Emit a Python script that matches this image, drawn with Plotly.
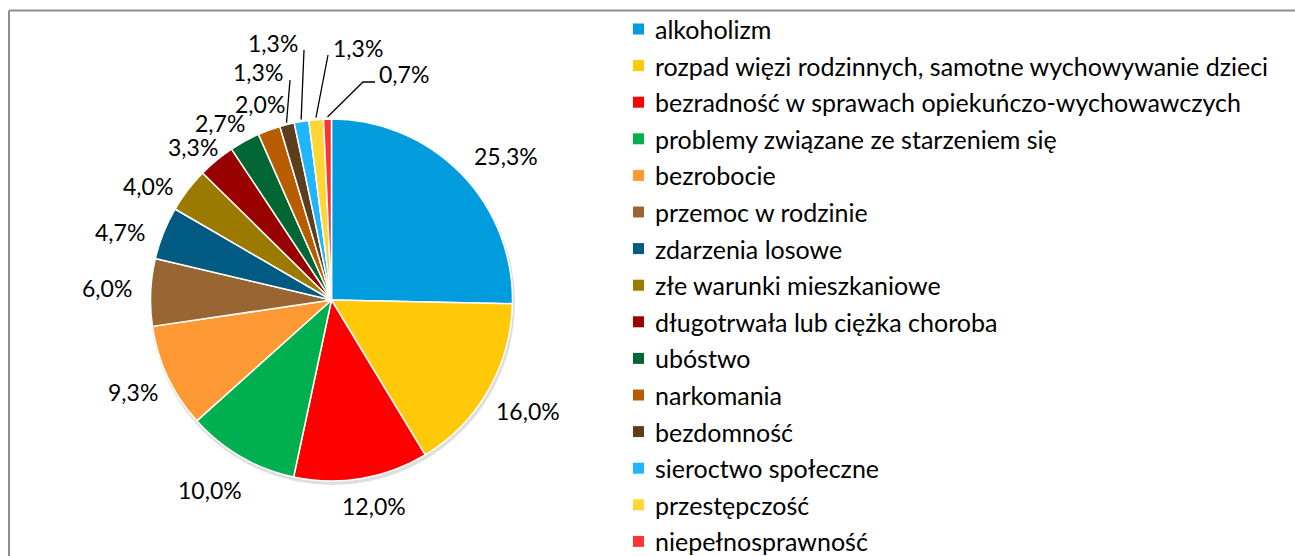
import math
import plotly.graph_objects as go

# ---------------- data ----------------
categories = [
    "alkoholizm",
    "rozpad więzi rodzinnych, samotne wychowywanie dzieci",
    "bezradność w sprawach opiekuńczo-wychowawczych",
    "problemy związane ze starzeniem się",
    "bezrobocie",
    "przemoc w rodzinie",
    "zdarzenia losowe",
    "złe warunki mieszkaniowe",
    "długotrwała lub ciężka choroba",
    "ubóstwo",
    "narkomania",
    "bezdomność",
    "sieroctwo społeczne",
    "przestępczość",
    "niepełnosprawność",
]
values = [25.3, 16.0, 12.0, 10.0, 9.3, 6.0, 4.7, 4.0, 3.3, 2.7, 2.0, 1.3, 1.3, 1.3, 0.7]
value_labels = [f"{v:.1f}%".replace(".", ",") for v in values]

# ---------------- styles ----------------
colors = [
    "#009CDE", "#FFC90A", "#FF0000", "#00B050", "#FF9933",
    "#996633", "#005A82", "#9C7A00", "#990000", "#006633",
    "#B85C00", "#5C3D1E", "#1FB6FF", "#FFD633", "#FF3333",
]
W, H = 1295, 556
FONT = "Lato"
LABEL_SIZE = 23
LEGEND_SIZE = 25

def fx(px):
    return px / W

def fy(py):
    return 1 - py / H

# pie geometry (pixels)
CX, CY, R = 331.5, 300.0, 181.0

fig = go.Figure()
# soft shadow under the pie
fig.add_trace(go.Pie(
    values=[1], labels=["shadow"], sort=False, textinfo="none", hoverinfo="skip",
    marker=dict(colors=["rgba(0,0,0,0.13)"], line=dict(width=0)),
    showlegend=False,
    domain=dict(x=[fx(CX - R - 1.5), fx(CX + R + 3.5)], y=[fy(CY + R + 4), fy(CY - R + 1)]),
))
fig.add_trace(go.Pie(
    labels=categories,
    values=values,
    sort=False,
    direction="clockwise",
    rotation=0,
    marker=dict(colors=colors, line=dict(color="white", width=1.5)),
    textinfo="none",
    hoverinfo="label+percent",
    showlegend=False,
    domain=dict(x=[fx(CX - R), fx(CX + R)], y=[fy(CY + R), fy(CY - R)]),
))

annotations = []
shapes = []

# frame (partly outside the visible window)
shapes.append(dict(type="line", xref="paper", yref="paper",
                   x0=fx(9), x1=fx(W + 5), y0=fy(10.5), y1=fy(10.5),
                   line=dict(color="#8C8C8C", width=2)))
shapes.append(dict(type="line", xref="paper", yref="paper",
                   x0=fx(9), x1=fx(9), y0=fy(10.5), y1=fy(H + 5),
                   line=dict(color="#8C8C8C", width=2)))

# data labels at computed mid angles
total = sum(values)
cum = 0.0
mids = []
for v in values:
    mids.append((cum + v / 2) / total * 360.0)
    cum += v

gap, hw, hh = 13, 32, 10
# small nudges (pixels) to mimic the spreadsheet label placement
nudge = {0: (15, 13), 1: (0, -2), 2: (8, 0), 3: (-12, 1), 4: (7, -5),
         5: (2, -2), 6: (0, 16), 7: (-4, 23), 8: (3, 18), 9: (-7, 14), 10: (2, 5)}
# labels with leader lines: (label center px, leader end near label px)
leader = {
    11: ((258, 72), (290, 80)),
    12: ((273, 43), (304, 50)),
    13: ((358, 48), (328, 55)),
    14: ((404, 74), (375, 82)),
}
for i, (lab, th) in enumerate(zip(value_labels, mids)):
    t = math.radians(th)
    if i in leader:
        (lx, ly), (ex, ey) = leader[i]
        sx = CX + (R + 2) * math.sin(t)
        sy = CY - (R + 2) * math.cos(t)
        if i == 14:
            path = f"M {fx(sx)},{fy(sy)} L {fx(363)},{fy(ey)} L {fx(ex)},{fy(ey)}"
        else:
            path = f"M {fx(sx)},{fy(sy)} L {fx(ex)},{fy(ey)}"
        shapes.append(dict(type="path", xref="paper", yref="paper", path=path,
                           line=dict(color="black", width=1.3)))
    else:
        d = R + gap + hw * abs(math.sin(t)) + hh * abs(math.cos(t))
        lx = CX + d * math.sin(t)
        ly = CY - d * math.cos(t)
        dx, dy = nudge.get(i, (0, 0))
        lx += dx
        ly += dy
    annotations.append(dict(
        x=fx(lx), y=fy(ly), xref="paper", yref="paper", text=lab,
        showarrow=False, xanchor="center", yanchor="middle",
        font=dict(family=FONT, size=LABEL_SIZE, color="black"),
    ))

# legend (manual, to match row spacing)
LEG_X_SQ, LEG_X_TXT, LEG_Y0, LEG_STEP, SQ = 638.5, 653, 29, 36.6, 11
for i, (cat, col) in enumerate(zip(categories, colors)):
    yc = LEG_Y0 + i * LEG_STEP
    shapes.append(dict(type="rect", xref="paper", yref="paper",
                       x0=fx(LEG_X_SQ - SQ / 2), x1=fx(LEG_X_SQ + SQ / 2),
                       y0=fy(yc + SQ / 2), y1=fy(yc - SQ / 2),
                       fillcolor=col, line=dict(width=0)))
    annotations.append(dict(
        x=fx(LEG_X_TXT), y=fy(yc), xref="paper", yref="paper", text=cat,
        showarrow=False, xanchor="left", yanchor="middle",
        font=dict(family=FONT, size=LEGEND_SIZE, color="black"),
    ))

fig.update_layout(
    width=W, height=H,
    margin=dict(l=0, r=0, t=0, b=0),
    paper_bgcolor="white", plot_bgcolor="white",
    showlegend=False,
    annotations=annotations,
    shapes=shapes,
)

fig.write_html(
    "out.html",
    config={"displayModeBar": False},
    post_script="document.body.style.margin='0';document.body.style.overflow='hidden';",
)
